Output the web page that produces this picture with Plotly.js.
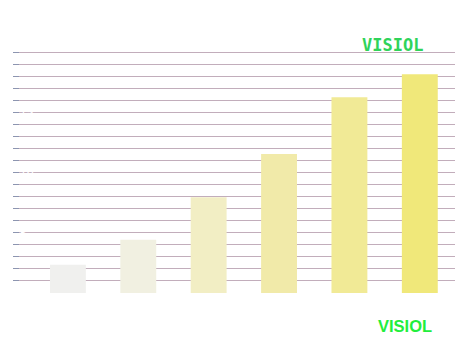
<!DOCTYPE html>
<html>
<head>
<meta charset="utf-8">
<script src="https://cdn.plot.ly/plotly-3.0.1.min.js"></script>
<style>html,body{margin:0;padding:0;background:#fff;}#chart{width:472px;height:343px;}</style>
</head>
<body>
<div id="chart"></div>
<script>
var categories = ["A", "B", "C", "D", "E", "F"];
var values = [2.35, 4.42, 7.95, 11.56, 16.27, 18.18];
var barColors = ["#f0f0ee", "#f1f0e1", "#f2eec4", "#f1eaa9", "#f1ea96", "#f0e87a"];
var gridVals = [1,2,3,4,5,6,7,8,9,10,11,12,13,14,15,16,17,18,19,20];
var gridText = gridVals.map(function(v){ return v % 5 === 0 ? String(v) : ""; });

var trace = {
  type: "bar",
  x: categories,
  y: values,
  width: 0.51,
  marker: {color: barColors, line: {width: 0}},
  hoverinfo: "none"
};

var W = 472, H = 343;
var T = 50, B = 50, PH = H - T - B;
var layout = {
  width: W, height: H,
  margin: {l: 13, r: 17, t: T, b: B, pad: 0},
  paper_bgcolor: "#ffffff",
  plot_bgcolor: "#ffffff",
  showlegend: false,
  bargap: 0.49,
  xaxis: {
    range: [-0.78, 5.5],
    showgrid: false,
    zeroline: false,
    showline: false,
    ticks: "",
    tickfont: {color: "#ffffff", size: 11}
  },
  yaxis: {
    range: [0, 20.2],
    tickvals: gridVals,
    ticktext: gridText,
    showgrid: true,
    gridcolor: "#c2adbb",
    gridwidth: 1,
    zeroline: false,
    showline: false,
    ticks: "inside",
    ticklen: 6,
    tickcolor: "#8d95b0",
    tickwidth: 1,
    ticklabelposition: "inside",
    tickfont: {color: "#ffffff", size: 11, family: "DejaVu Sans"}
  },
  annotations: [
    {text: "<b>VISIOL</b>", xref: "paper", yref: "paper", x: (392 - 13) / 442, y: (H - B - 45.5) / PH,
     xanchor: "center", yanchor: "middle", showarrow: false,
     font: {family: "DejaVu Sans Mono", size: 17, color: "#2fd35a"}},
    {text: "<b>VISIOL</b>", xref: "paper", yref: "paper", x: (405 - 13) / 442, y: (H - B - 325.5) / PH,
     xanchor: "center", yanchor: "middle", showarrow: false,
     font: {family: "Liberation Sans", size: 16.5, color: "#22ee3c"}}
  ]
};

Plotly.newPlot("chart", [trace], layout, {displayModeBar: false, staticPlot: true});
</script>
</body>
</html>
